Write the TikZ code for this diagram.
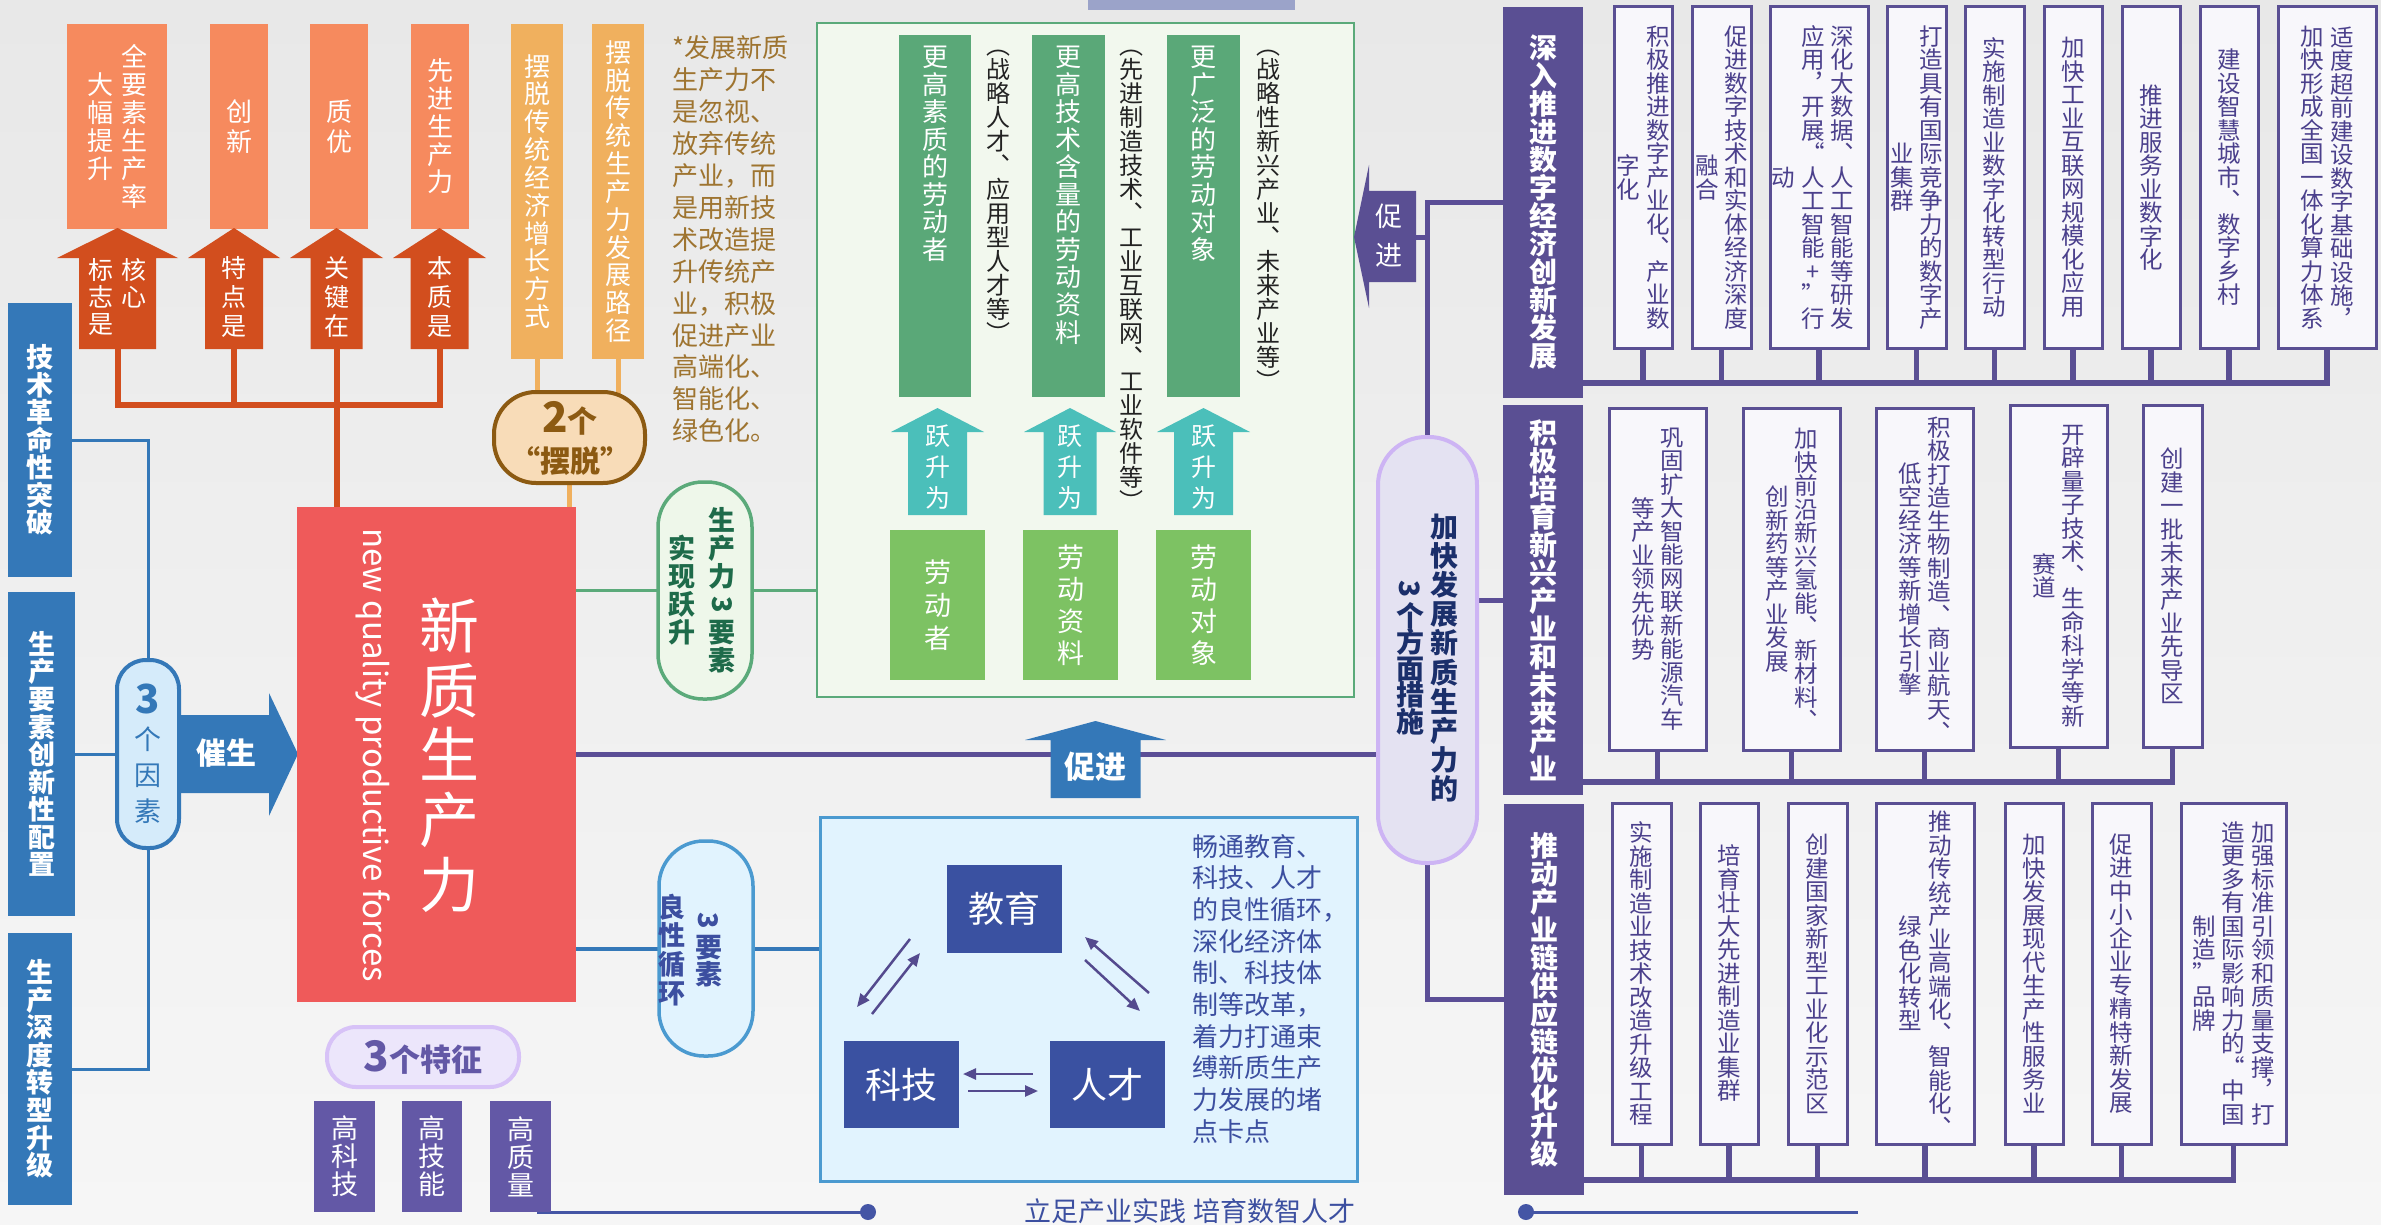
\documentclass[tikz,border=0pt]{standalone}
\usepackage{fontspec}
\usepackage{graphicx}
\setmainfont{Noto Sans CJK SC}
\usetikzlibrary{fit,arrows.meta}
\pgfdeclarelayer{bgl}\pgfdeclarelayer{lines}
\pgfsetlayers{bgl,lines,main}
\newcommand\fs[1]{\fontsize{#1}{#1}\selectfont}
\newcommand\rthree{\rotatebox[origin=c]{-90}{3}}
\ExplSyntaxOn
\NewDocumentCommand\vc{O{1.0}m}{
  \ensuremath{\vcenter{
    \baselineskip=#1em\relax \lineskip=0pt\relax \lineskiplimit=-1000pt\relax
    \tl_map_inline:nn {#2}{\hbox_to_wd:nn{1em}{\hss ##1\hss}}
  }}
}
\ExplSyntaxOff
\definecolor{cBgT}{HTML}{E8E8E8}\definecolor{cBgB}{HTML}{F6F6F6}
\definecolor{cSalmon}{HTML}{F68A5E}\definecolor{cOrD}{HTML}{D24E1E}
\definecolor{cYel}{HTML}{F0B05E}\definecolor{cPeach}{HTML}{F8DCB8}
\definecolor{cBrown}{HTML}{8C5A12}\definecolor{cNote}{HTML}{9E7430}
\definecolor{cBlue}{HTML}{3478B8}\definecolor{cBluePill}{HTML}{D5EBFA}
\definecolor{cRed}{HTML}{EF5A5A}\definecolor{cPurB}{HTML}{6358A6}
\definecolor{cPurH}{HTML}{5A4F93}\definecolor{cPurL}{HTML}{5B4E96}
\definecolor{cLavF}{HTML}{ECE6FB}\definecolor{cLavD}{HTML}{D7C2F7}
\definecolor{cGrB}{HTML}{5BAA7A}\definecolor{cGrF}{HTML}{F2F8EE}
\definecolor{cGrPF}{HTML}{EEF7EA}\definecolor{cGrD}{HTML}{5AA878}
\definecolor{cGrL}{HTML}{7DC263}\definecolor{cTeal}{HTML}{4BBFBA}
\definecolor{cGrT}{HTML}{1E6B4A}\definecolor{cBbF}{HTML}{E1F3FE}
\definecolor{cBbD}{HTML}{4B9AD0}\definecolor{cNavy}{HTML}{3A51A1}
\definecolor{cBtxt}{HTML}{3C4FA0}\definecolor{cMpF}{HTML}{E4E2F2}
\definecolor{cMpD}{HTML}{CDB4F4}\definecolor{cMpT}{HTML}{1B2F6B}
\definecolor{cSbF}{HTML}{F8F7FB}\definecolor{cSbT}{HTML}{4B408C}
\definecolor{cArr}{HTML}{544A8E}\definecolor{cTop}{HTML}{9BA3C9}
\definecolor{cBot}{HTML}{4455A5}\definecolor{cAnn}{HTML}{222222}
\newcommand\uparw[7]{\fill[#1] (#2-#4,#7) -- (#2-#4,#6) -- (#2-#3,#6) -- (#2,#5) -- (#2+#3,#6) -- (#2+#4,#6) -- (#2+#4,#7) -- cycle;}
\begin{document}
\begin{tikzpicture}[x=1pt,y=-1pt,
  every node/.style={inner sep=0pt,outer sep=0pt},
  obox/.style={fill=cSalmon},
  ybox/.style={fill=cYel},
  lbox/.style={fill=cBlue},
  wt/.style={text=white},
  sb/.style={fill=cSbF,draw=cPurH,line width=3pt},
  sbt/.style={text=cSbT,font=\fs{23.5}},
  hd/.style={fill=cPurH},
  hdt/.style={text=white,font=\fs{28}\bfseries},
  oline/.style={draw=cOrD,line width=6pt},
  yline/.style={draw=cYel,line width=5pt},
  bline/.style={draw=cBlue,line width=3pt},
  bline2/.style={draw=cBlue,line width=4pt},
  gline/.style={draw=cGrB,line width=3.5pt},
  pline/.style={draw=cPurL,line width=5pt},
  busl/.style={draw=cPurH,line width=5.5pt},
  arr/.style={draw=cArr,line width=2.5pt,-{Triangle[length=13pt,width=11pt]}}]
\useasboundingbox (0,0) rectangle (2381,1225);
\begin{pgfonlayer}{bgl}
\shade[top color=cBgT,bottom color=cBgB] (0,0) rectangle (2381,1225);
\end{pgfonlayer}
% top bar
\node[fill=cTop,fit={(1088,0)(1295,10)}] (topbar) {};
% orange boxes
\node[obox,fit={(67,24)(167,229)}] (o1) {};
\node[obox,fit={(210,24)(268,229)}] (o2) {};
\node[obox,fit={(310,24)(368,229)}] (o3) {};
\node[obox,fit={(411,24)(469,229)}] (o4) {};
\node[ybox,fit={(511,24)(563,359)}] (o5) {};
\node[ybox,fit={(592,24)(644,359)}] (o6) {};
\node[wt,font=\fs{26}] (o1t) at (o1) {\vc[1.07]{大幅提升}\hspace{8pt}\vc[1.07]{全要素生产率}};
\node[wt,font=\fs{26}] (o2t) at (o2) {\vc[1.15]{创新}};
\node[wt,font=\fs{26}] (o3t) at (o3) {\vc[1.15]{质优}};
\node[wt,font=\fs{26}] (o4t) at (o4) {\vc[1.07]{先进生产力}};
\node[wt,font=\fs{26}] (o5t) at (o5) {\vc[1.07]{摆脱传统经济增长方式}};
\node[wt,font=\fs{26}] (o6t) at (o6) {\vc[1.07]{摆脱传统生产力发展路径}};
\uparw{cOrD}{117.5}{60.5}{38.5}{228}{258}{349}
\uparw{cOrD}{234}{46}{29}{228}{258}{349}
\uparw{cOrD}{336.5}{46.5}{26}{228}{258}{349}
\uparw{cOrD}{439.5}{46.5}{29}{228}{258}{349}
\coordinate (a1) at (117.5,349);\coordinate (a2) at (234,349);
\coordinate (a3) at (336.5,349);\coordinate (a4) at (439.5,349);
\coordinate (obus) at (337,405);
\node[wt,anchor=north,font=\fs{25}] (t1r) at (134,258) {\vc[1.08]{核心}};
\node[wt,anchor=north,font=\fs{25}] (t1l) at (101,258) {\vc[1.08]{标志是}};
\node[wt,font=\fs{25}] (t2) at (234,297) {\vc[1.16]{特点是}};
\node[wt,font=\fs{25}] (t3) at (337,297) {\vc[1.16]{关键在}};
\node[wt,font=\fs{25}] (t4) at (439.5,297) {\vc[1.16]{本质是}};
% 2 baituo pill
\node[fit={(494,392)(645,483)},fill=cPeach,draw=cBrown,line width=4pt,rounded corners=42pt] (p2) {};
\node[text=cBrown,font=\bfseries\fontsize{30}{40}\selectfont,align=center] (p2t) at (570,438) {{\fs{42}2}个\\“摆脱”};
% note
\node[anchor=north west,text=cNote,align=left,font=\fontsize{26}{31.9}\selectfont] (note) at (672,36) {*发展新质\\生产力不\\是忽视、\\放弃传统\\产业，而\\是用新技\\术改造提\\升传统产\\业，积极\\促进产业\\高端化、\\智能化、\\绿色化。};
% left blue
\node[lbox,fit={(8,303)(72,577)}] (lb1) {};
\node[lbox,fit={(8,592)(75,916)}] (lb2) {};
\node[lbox,fit={(8,933)(72,1205)}] (lb3) {};
\node[wt,font=\fs{27}\bfseries] (lb1t) at (lb1) {\vc[1.02]{技术革命性突破}};
\node[wt,font=\fs{27}\bfseries] (lb2t) at (lb2) {\vc[1.02]{生产要素创新性配置}};
\node[wt,font=\fs{27}\bfseries] (lb3t) at (lb3) {\vc[1.02]{生产深度转型升级}};
\node[fit={(117,660)(179,848)},fill=cBluePill,draw=cBlue,line width=4pt,rounded corners=29pt] (fac) {};
\node[text=cBlue,font=\fs{27}] (fact) at (148,754) {\vc[1.33]{{\fs{40}\bfseries 3}个因素}};
\fill[cBlue] (179,715) -- (269,715) -- (269,693) -- (298,754) -- (269,816) -- (269,793) -- (179,793) -- cycle;
\node[wt,font=\fs{30}\bfseries] (cs) at (226,753) {催生};
% red
\node[fill=cRed,fit={(297,507)(576,1002)}] (red) {};
\node[wt,font=\fs{60}] (redt) at (449,755) {\vc[1.08]{新质生产力}};
\node[wt,font=\fs{33},rotate=-90] (rede) at (373,755) {new quality productive forces};
% 3 features
\node[fit={(327,1027)(519,1087)},fill=cLavF,draw=cLavD,line width=4pt,rounded corners=29pt] (tz) {};
\node[text=cPurB,font=\bfseries] (tzt) at (423,1057) {{\fs{42}3}{\fs{31}个特征}};
\node[fill=cPurB,fit={(314,1101)(375,1212)}] (g1) {};
\node[fill=cPurB,fit={(402,1101)(462,1212)}] (g2) {};
\node[fill=cPurB,fit={(490,1101)(551,1212)}] (g3) {};
\node[wt,font=\fs{27}] (g1t) at (g1) {\vc[1.04]{高科技}};
\node[wt,font=\fs{27}] (g2t) at (g2) {\vc[1.04]{高技能}};
\node[wt,font=\fs{27}] (g3t) at (g3) {\vc[1.04]{高质量}};
% green pill
\node[fit={(658,482)(752,699)},fill=cGrPF,draw=cGrB,line width=3.5pt,rounded corners=45pt] (gp) {};
\node[text=cGrT,font=\fs{27}\bfseries] (gpt) at (702,590) {\vc[1.04]{实现跃升}\hspace{13pt}\vc[1.04]{生产力{\rthree}要素}};
% green box
\node[fill=cGrF,draw=cGrB,line width=2.5pt,fit={(817,23)(1354,697)}] (gbox) {};
\node[fill=cGrD,fit={(899,35)(971,397)}] (gA) {};
\node[fill=cGrD,fit={(1032,35)(1105,397)}] (gB) {};
\node[fill=cGrD,fit={(1167,35)(1240,397)}] (gC) {};
\node[wt,font=\fs{26},anchor=north] (gAt) at (935,46) {\vc[1.06]{更高素质的劳动者}};
\node[wt,font=\fs{26},anchor=north] (gBt) at (1068.5,46) {\vc[1.06]{更高技术含量的劳动资料}};
\node[wt,font=\fs{26},anchor=north] (gCt) at (1203.5,46) {\vc[1.06]{更广泛的劳动对象}};
\node[text=cAnn,font=\fs{24},anchor=north] (nA) at (998,50) {\vc[1.0]{︵战略人才︑应用型人才等︶}};
\node[text=cAnn,font=\fs{24},anchor=north] (nB) at (1131,50) {\vc[1.0]{︵先进制造技术︑工业互联网︑工业软件等︶}};
\node[text=cAnn,font=\fs{24},anchor=north] (nC) at (1268,50) {\vc[1.0]{︵战略性新兴产业︑未来产业等︶}};
\uparw{cTeal}{937.5}{46.5}{29.5}{408}{432}{515}
\uparw{cTeal}{1070}{46}{26.5}{408}{432}{515}
\uparw{cTeal}{1203.5}{46.5}{29.5}{408}{432}{515}
\node[wt,font=\fs{25}] (yA) at (937.5,467) {\vc[1.24]{跃升为}};
\node[wt,font=\fs{25}] (yB) at (1070,467) {\vc[1.24]{跃升为}};
\node[wt,font=\fs{25}] (yC) at (1203.5,467) {\vc[1.24]{跃升为}};
\node[fill=cGrL,fit={(890,530)(985,680)}] (lA) {};
\node[fill=cGrL,fit={(1023,530)(1118,680)}] (lB) {};
\node[fill=cGrL,fit={(1156,530)(1251,680)}] (lC) {};
\node[wt,font=\fs{27}] (lAt) at (lA) {\vc[1.22]{劳动者}};
\node[wt,font=\fs{27}] (lBt) at (lB) {\vc[1.18]{劳动资料}};
\node[wt,font=\fs{27}] (lCt) at (lC) {\vc[1.18]{劳动对象}};
% blue promote arrow
\uparw{cBlue}{1095.5}{70.5}{45}{721}{740}{798}
\node[wt,font=\fs{31}\bfseries] (cj1) at (1095,767) {促进};
% blue pill
\node[fit={(659,841)(753,1056)},fill=cBbF,draw=cBbD,line width=3.5pt,rounded corners=45pt] (bp) {};
\node[text=cBtxt,font=\fs{27}\bfseries] (bpt) at (690,950) {\vc[1.07]{良性循环}\hspace{10pt}\vc[1.0]{{\rthree}要素}};
% blue box
\node[fill=cBbF,draw=cBbD,line width=3pt,fit={(820,817)(1357,1181)}] (bbox) {};
\node[fill=cNavy,fit={(947,865)(1062,953)}] (jy) {};
\node[fill=cNavy,fit={(844,1041)(959,1128)}] (kj) {};
\node[fill=cNavy,fit={(1050,1041)(1165,1128)}] (rc) {};
\node[wt,font=\fs{36}] (jyt) at (jy) {教育};
\node[wt,font=\fs{36}] (kjt) at (kj) {科技};
\node[wt,font=\fs{36}] (rct) at (rc) {人才};
\coordinate (e1s) at (910,939);\coordinate (e1e) at (857,1007);
\coordinate (e2s) at (872,1014);\coordinate (e2e) at (920,953);
\coordinate (e3s) at (1149,993);\coordinate (e3e) at (1085,937);
\coordinate (e4s) at (1085,960);\coordinate (e4e) at (1140,1011);
\coordinate (e5s) at (1033,1074);\coordinate (e5e) at (963,1074);
\coordinate (e6s) at (968,1091);\coordinate (e6e) at (1038,1091);
\draw[arr] (e1s) -- (e1e);\draw[arr] (e2s) -- (e2e);
\draw[arr] (e3s) -- (e3e);\draw[arr] (e4s) -- (e4e);
\draw[arr] (e5s) -- (e5e);\draw[arr] (e6s) -- (e6e);
\node[anchor=north west,text=cBtxt,align=left,font=\fontsize{26}{31.7}\selectfont] (para) at (1192,834) {畅通教育、\\科技、人才\\的良性循环，\\深化经济体\\制、科技体\\制等改革，\\着力打通束\\缚新质生产\\力发展的堵\\点卡点};
% lavender pill
\node[fit={(1378,437)(1477,863)},fill=cMpF,draw=cMpD,line width=4pt,rounded corners=48pt] (mp) {};
\node[text=cMpT,font=\fs{28}\bfseries] (mpt) at (1427,658) {\vc[0.95]{{\rthree}个方面措施}\hspace{6pt}\vc[1.04]{加快发展新质生产力的}};
% purple promote arrow
\fill[cPurH] (1416,191) -- (1369,191) -- (1369,165) -- (1354,237) -- (1369,308) -- (1369,282) -- (1416,282) -- cycle;
\node[wt,font=\fs{27}] (cj2) at (1389,236) {\vc[1.45]{促进}};
\coordinate (cj2r) at (1416,237);
% headers
\node[hd,fit={(1503,7)(1583,398)}] (h1) {};
\node[hd,fit={(1503,405)(1583,795)}] (h2) {};
\node[hd,fit={(1504,804)(1584,1195)}] (h3) {};
\node[hdt] (h1t) at (h1) {\vc[1.0]{深入推进数字经济创新发展}};
\node[hdt] (h2t) at (h2) {\vc[1.0]{积极培育新兴产业和未来产业}};
\node[hdt] (h3t) at (h3) {\vc[1.0]{推动产业链供应链优化升级}};
% row 1
\node[sb,fit={(1614,7)(1672,348)}] (r1a) {};
\node[sb,fit={(1692,7)(1751,348)}] (r1b) {};
\node[sb,fit={(1770,7)(1868,348)}] (r1c) {};
\node[sb,fit={(1887,7)(1946,348)}] (r1d) {};
\node[sb,fit={(1965,7)(2024,348)}] (r1e) {};
\node[sb,fit={(2044,7)(2102,348)}] (r1f) {};
\node[sb,fit={(2122,7)(2180,348)}] (r1g) {};
\node[sb,fit={(2200,7)(2258,348)}] (r1h) {};
\node[sb,fit={(2278,7)(2376,348)}] (r1i) {};
\node[sbt] (r1at) at (r1a) {\vc{字化}\hspace{6pt}\vc{积极推进数字产业化︑产业数}};
\node[sbt] (r1bt) at (r1b) {\vc{融合}\hspace{6pt}\vc{促进数字技术和实体经济深度}};
\node[sbt] (r1ct) at ([xshift=-6pt]r1c.center) {\vc{动}\hspace{6pt}\vc{应用︐开展“人工智能+”行}\hspace{6pt}\vc{深化大数据︑人工智能等研发}};
\node[sbt] (r1dt) at (r1d) {\vc{业集群}\hspace{6pt}\vc{打造具有国际竞争力的数字产}};
\node[sbt] (r1et) at (r1e) {\vc{实施制造业数字化转型行动}};
\node[sbt] (r1ft) at (r1f) {\vc{加快工业互联网规模化应用}};
\node[sbt] (r1gt) at (r1g) {\vc{推进服务业数字化}};
\node[sbt] (r1ht) at (r1h) {\vc{建设智慧城市︑数字乡村}};
\node[sbt] (r1it) at (r1i) {\vc{加快形成全国一体化算力体系}\hspace{6pt}\vc{适度超前建设数字基础设施︐}};
% row 2
\node[sb,fit={(1609,408)(1706,750)}] (r2a) {};
\node[sb,fit={(1743,408)(1840,750)}] (r2b) {};
\node[sb,fit={(1876,408)(1973,750)}] (r2c) {};
\node[sb,fit={(2010,405)(2107,747)}] (r2d) {};
\node[sb,fit={(2143,405)(2202,747)}] (r2e) {};
\node[sbt] (r2at) at (r2a) {\vc{等产业领先优势}\hspace{6pt}\vc{巩固扩大智能网联新能源汽车}};
\node[sbt] (r2bt) at (r2b) {\vc{创新药等产业发展}\hspace{6pt}\vc{加快前沿新兴氢能︑新材料︑}};
\node[sbt] (r2ct) at (r2c) {\vc{低空经济等新增长引擎}\hspace{6pt}\vc{积极打造生物制造︑商业航天︑}};
\node[sbt] (r2dt) at (r2d) {\vc{赛道}\hspace{6pt}\vc{开辟量子技术︑生命科学等新}};
\node[sbt] (r2et) at (r2e) {\vc{创建一批未来产业先导区}};
% row 3
\node[sb,fit={(1612,803)(1671,1144)}] (r3a) {};
\node[sb,fit={(1700,803)(1758,1144)}] (r3b) {};
\node[sb,fit={(1788,803)(1847,1144)}] (r3c) {};
\node[sb,fit={(1876,803)(1974,1144)}] (r3d) {};
\node[sb,fit={(2005,803)(2063,1144)}] (r3e) {};
\node[sb,fit={(2092,803)(2151,1144)}] (r3f) {};
\node[sb,fit={(2181,803)(2286,1144)}] (r3g) {};
\node[sbt] (r3at) at (r3a) {\vc{实施制造业技术改造升级工程}};
\node[sbt] (r3bt) at (r3b) {\vc{培育壮大先进制造业集群}};
\node[sbt] (r3ct) at (r3c) {\vc{创建国家新型工业化示范区}};
\node[sbt] (r3dt) at (r3d) {\vc{绿色化转型}\hspace{6pt}\vc{推动传统产业高端化︑智能化︑}};
\node[sbt] (r3et) at (r3e) {\vc{加快发展现代生产性服务业}};
\node[sbt] (r3ft) at (r3f) {\vc{促进中小企业专精特新发展}};
\node[sbt] (r3gt) at (r3g) {\vc{制造”品牌}\hspace{6pt}\vc{造更多有国际影响力的“中国}\hspace{6pt}\vc{加强标准引领和质量支撑︐打}};
\coordinate (bus1) at (1583,383);
\coordinate (bus2) at (1583,782);
\coordinate (bus3) at (1584,1180);
% bottom
\coordinate (bl1) at (537,1212);\coordinate (bl2) at (868,1212);
\coordinate (br1) at (1526,1212);\coordinate (br2) at (1858,1212);
\node[text=cBtxt,font=\fs{27},anchor=north] (slogan) at (1190,1199) {立足产业实践 培育数智人才};
\begin{pgfonlayer}{lines}
\draw[oline] (a1) -- (a1 |- obus) -- (a4 |- obus) -- (a4);
\draw[oline] (a2) -- (a2 |- obus);
\draw[oline] (a3) -- (a3 |- red.north);
\draw[yline] (o5.south) -- (o5.south |- p2.center);
\draw[yline] (o6.south) -- (o6.south |- p2.center);
\draw[yline] (p2.center) -- (p2.center |- red.north);
\draw[bline] (lb1.east) -| (fac.north);
\draw[bline] (lb2.east) -- (lb2.east -| fac.west);
\draw[bline] (lb3.east) -| (fac.south);
\draw[gline] (red.east |- gp.west) -- (gp.west);
\draw[gline] (gp.east) -- (gp.east -| gbox.west);
\draw[pline] (red.east) -- (red.east -| mp.west);
\draw[bline2] (red.east |- bp.west) -- (bp.west);
\draw[bline2] (bp.east) -- (bp.east -| bbox.west);
\draw[pline] (mp.north) |- (h1.west);
\draw[pline] (h2.west) -- (h2.west -| mp.east);
\draw[pline] (mp.south) |- (h3.west);
\draw[pline] (cj2r) -- (cj2r -| mp.north);
\draw[busl] (bus1) -- (r1i.south |- bus1) -- (r1i.south);
\foreach \n in {r1a,r1b,r1c,r1d,r1e,r1f,r1g,r1h} \draw[busl] (\n.south) -- (\n.south |- bus1);
\draw[busl] (bus2) -- (r2e.south |- bus2) -- (r2e.south);
\foreach \n in {r2a,r2b,r2c,r2d} \draw[busl] (\n.south) -- (\n.south |- bus2);
\draw[busl] (bus3) -- (r3g.south |- bus3) -- (r3g.south);
\foreach \n in {r3a,r3b,r3c,r3d,r3e,r3f} \draw[busl] (\n.south) -- (\n.south |- bus3);
\draw[draw=cBot,line width=3pt] (bl1) -- (bl2);
\draw[draw=cBot,line width=3pt] (br1) -- (br2);
\end{pgfonlayer}
\fill[cBot] (bl2) circle (8);
\fill[cBot] (br1) circle (8);
\end{tikzpicture}
\end{document}
